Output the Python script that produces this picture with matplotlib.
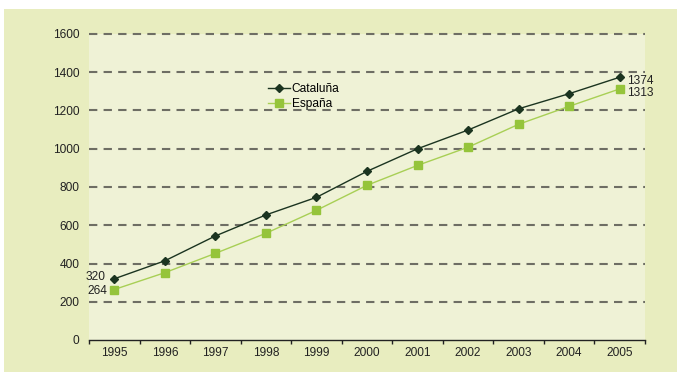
import matplotlib.pyplot as plt
from matplotlib.patches import Rectangle
import numpy as np

plt.rcParams['font.family'] = ['Liberation Sans', 'DejaVu Sans']

years = ['1995', '1996', '1997', '1998', '1999', '2000',
         '2001', '2002', '2003', '2004', '2005']
cataluna = [320, 414, 544, 654, 746, 882, 1000, 1098, 1209, 1288, 1374]
espana = [264, 352, 453, 558, 678, 809, 913, 1008, 1128, 1222, 1313]
yticks = [0, 200, 400, 600, 800, 1000, 1200, 1400, 1600]

outer_bg = '#e8edbf'
inner_bg = '#eff2d6'
dark = '#1b3420'
green = '#95c43b'
line_green = '#a8cf55'
txt = '#222222'
fs = 8.6

fig = plt.figure(figsize=(6.77, 3.72), dpi=100)
fig.patch.set_facecolor('white')
fig.patches.append(Rectangle((4 / 677, 0), 1, 1 - 9 / 372, transform=fig.transFigure,
                             facecolor=outer_bg, edgecolor='none', zorder=-10))

ax = fig.add_axes([89 / 677, 1 - 340 / 372, 556 / 677, 306 / 372])
ax.set_facecolor(inner_bg)

x = np.arange(len(years))
ax.plot(x, cataluna, color=dark, lw=1.0, marker='D', ms=3.8, mfc=dark, mec=dark,
        label='Cataluña', zorder=4)
ax.plot(x, espana, color=line_green, lw=1.0, marker='s', ms=5.2, mfc=green, mec=green,
        label='España', zorder=3)

ax.set_xlim(-0.5, len(years) - 0.5)
ax.set_ylim(0, 1600)
ax.set_yticks(yticks)
ax.set_yticklabels([str(v) for v in yticks], fontsize=fs, color=txt)
ax.tick_params(axis='y', length=0, pad=7)

# category labels centred, ticks on bin edges
ax.set_xticks(x)
ax.set_xticklabels(years, fontsize=fs, color=txt)
ax.set_xticks(np.arange(-0.5, len(years)), minor=True)
ax.tick_params(axis='x', which='major', length=0, pad=5)
ax.tick_params(axis='x', which='minor', length=3, width=1, color=txt)

for v in yticks[1:]:
    ax.axhline(v, color='#6e6e64', lw=1.5, ls=(0, (4, 3)), zorder=1, clip_on=False)

for side in ['top', 'right', 'left']:
    ax.spines[side].set_visible(False)
ax.spines['bottom'].set_color(txt)
ax.spines['bottom'].set_linewidth(1.0)

ax.annotate(str(cataluna[0]), (x[0], cataluna[0]), xytext=(-6, 1), textcoords='offset points',
            ha='right', va='center', fontsize=fs, color=txt)
ax.annotate(str(espana[0]), (x[0], espana[0]), xytext=(-5, -1), textcoords='offset points',
            ha='right', va='center', fontsize=fs, color=txt)
ax.annotate(str(cataluna[-1]), (x[-1], cataluna[-1]), xytext=(5, -3), textcoords='offset points',
            ha='left', va='center', fontsize=fs, color=txt)
ax.annotate(str(espana[-1]), (x[-1], espana[-1]), xytext=(5, -3), textcoords='offset points',
            ha='left', va='center', fontsize=fs, color=txt)

ax.legend(loc='upper left', bbox_to_anchor=(0.312, 0.86), frameon=False, fontsize=fs,
          handlelength=1.8, handletextpad=0.15, labelspacing=0.3, borderpad=0)

fig.savefig('out.png', dpi=100, facecolor=fig.get_facecolor())
